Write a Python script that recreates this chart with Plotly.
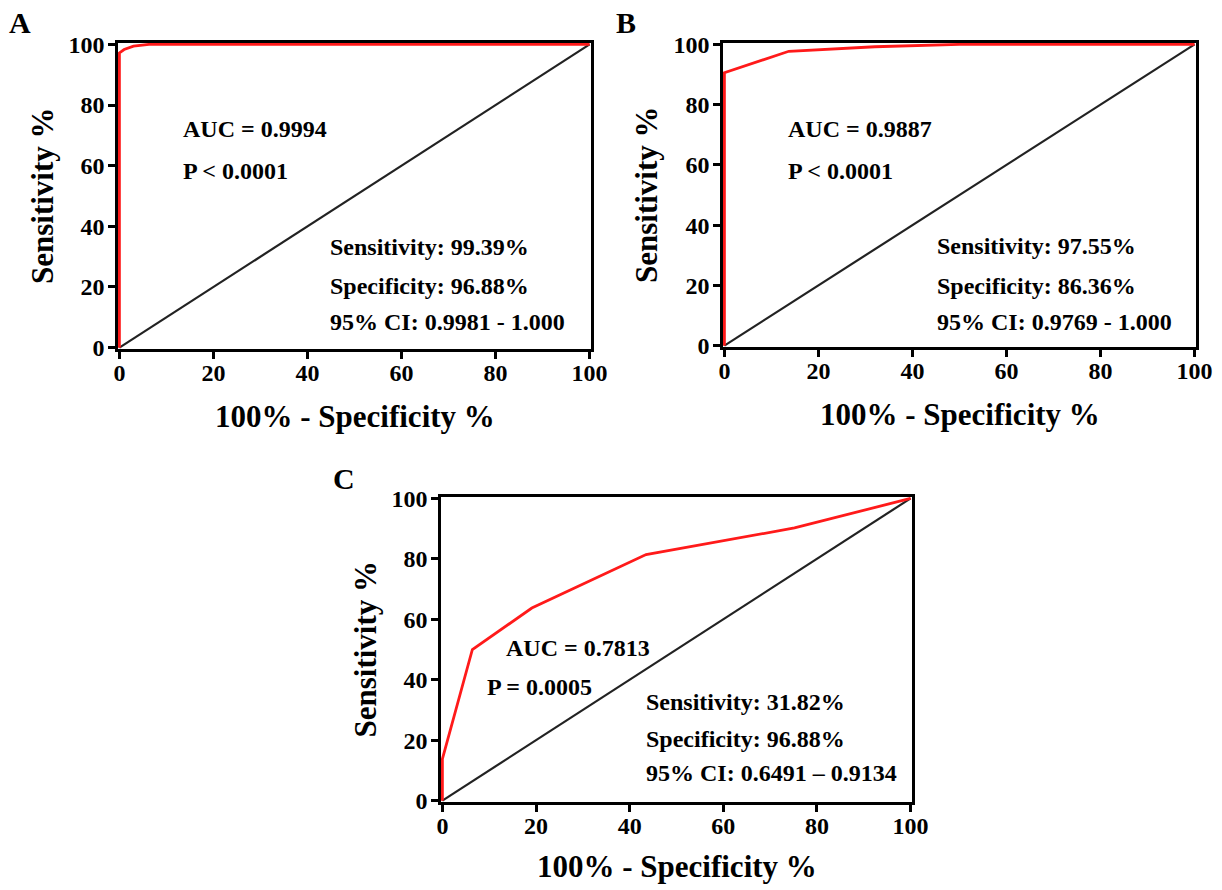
import plotly.graph_objects as go

# ---- data ----
diag_x = [0, 100]
diag_y = [0, 100]

a_fpr = [0, 0, 1, 3, 6.3, 100]
a_tpr = [0, 97.2, 98.3, 99.4, 100, 100]

b_fpr = [0, 0, 13.7, 20, 32, 50, 100]
b_tpr = [0, 90.6, 97.7, 98.2, 99.2, 100, 100]

c_fpr = [0, 0, 6.4, 19.1, 43.5, 75.2, 100]
c_tpr = [0, 13.8, 50.0, 63.7, 81.4, 90.2, 100]

a_text = ["AUC = 0.9994", "P < 0.0001", "Sensitivity: 99.39%", "Specificity: 96.88%", "95% CI: 0.9981 - 1.000"]
b_text = ["AUC = 0.9887", "P < 0.0001", "Sensitivity: 97.55%", "Specificity: 86.36%", "95% CI: 0.9769 - 1.000"]
c_text = ["AUC = 0.7813", "P = 0.0005", "Sensitivity: 31.82%", "Specificity: 96.88%", "95% CI: 0.6491 \u2013 0.9134"]

ticks = [0, 20, 40, 60, 80, 100]
x_title = "100% - Specificity %"
y_title = "Sensitivity %"
panel_letters = ["A", "B", "C"]

W, H = 1222, 890
FONT = "Liberation Serif"

# pixel boxes of plot areas: (left, right, top, bottom)
boxes = [(118, 591, 43, 349), (723, 1196, 43, 347), (441, 912, 497, 802)]
xtitle_off = [67, 67, 64]
# text positions in data coords (x_left, y) for each line
text_pos = [
    [(13.1, 72.2), (13.1, 58.2), (44.4, 33.3), (44.4, 20.3), (44.4, 8.5)],
    [(13.1, 72.0), (13.1, 57.9), (44.8, 33.2), (44.8, 19.7), (44.8, 7.9)],
    [(13.2, 50.5), (9.1, 37.7), (43.1, 32.5), (43.1, 20.3), (43.1, 9.2)],
]
letter_pos = [(20, 22), (626, 22), (344, 478)]

fig = go.Figure()
curves = [(a_fpr, a_tpr), (b_fpr, b_tpr), (c_fpr, c_tpr)]
texts = [a_text, b_text, c_text]

annotations = []
for i, (box, (fx, fy), txt) in enumerate(zip(boxes, curves, texts)):
    n = "" if i == 0 else str(i + 1)
    xa, ya = "x" + n, "y" + n
    l, r, t, b = box
    xpad = 0.3
    ypad = 0.45
    fig.add_trace(go.Scatter(x=diag_x, y=diag_y, mode="lines",
                             line=dict(color="#222222", width=2.2),
                             xaxis=xa, yaxis=ya, showlegend=False, hoverinfo="skip"))
    fig.add_trace(go.Scatter(x=fx, y=fy, mode="lines",
                             line=dict(color="#ff1a1a", width=2.8),
                             xaxis=xa, yaxis=ya, showlegend=False))
    axis_common = dict(
        tickvals=ticks, ticks="outside", ticklen=7, tickwidth=2.5, tickcolor="black",
        showline=True, linecolor="black", linewidth=2.5, mirror=True,
        showgrid=False, zeroline=False, layer="below traces", automargin=False,
        tickfont=dict(family=FONT, size=24, color="black", weight="bold"),
    )
    fig.update_layout(**{
        ("xaxis" + n): dict(domain=[l / W, r / W], range=[-xpad, 100 + xpad],
                            anchor=ya, ticklabelstandoff=-7, **axis_common),
        ("yaxis" + n): dict(domain=[1 - b / H, 1 - t / H], range=[-ypad, 100 + ypad],
                            anchor=xa, ticklabelstandoff=-1, **axis_common),
    })
    for (px, py), s in zip(text_pos[i], txt):
        annotations.append(dict(x=px, y=py, xref=xa, yref=ya, text="<b>" + s + "</b>",
                                showarrow=False, xanchor="left", yanchor="middle",
                                font=dict(family=FONT, size=24, color="black")))
    # axis titles
    annotations.append(dict(x=(l + r) / 2 / W, y=1 - (b + xtitle_off[i]) / H, xref="paper", yref="paper",
                            text="<b>" + x_title + "</b>", showarrow=False,
                            xanchor="center", yanchor="middle",
                            font=dict(family=FONT, size=31, color="black")))
    annotations.append(dict(x=(l - 76) / W, y=1 - (t + b) / 2 / H, xref="paper", yref="paper",
                            text="<b>" + y_title + "</b>", showarrow=False, textangle=-90,
                            xanchor="center", yanchor="middle",
                            font=dict(family=FONT, size=31, color="black")))
    lx, ly = letter_pos[i]
    annotations.append(dict(x=lx / W, y=1 - ly / H, xref="paper", yref="paper",
                            text="<b>" + panel_letters[i] + "</b>", showarrow=False,
                            xanchor="center", yanchor="middle",
                            font=dict(family=FONT, size=30, color="black")))

fig.update_layout(width=W, height=H, margin=dict(l=0, r=0, t=0, b=0, pad=0, autoexpand=False),
                  paper_bgcolor="white", plot_bgcolor="white",
                  annotations=annotations)
fig.write_html("out.html", config={"displayModeBar": False},
               post_script="document.body.style.margin='0';document.body.style.padding='0';document.body.style.overflow='hidden';")
